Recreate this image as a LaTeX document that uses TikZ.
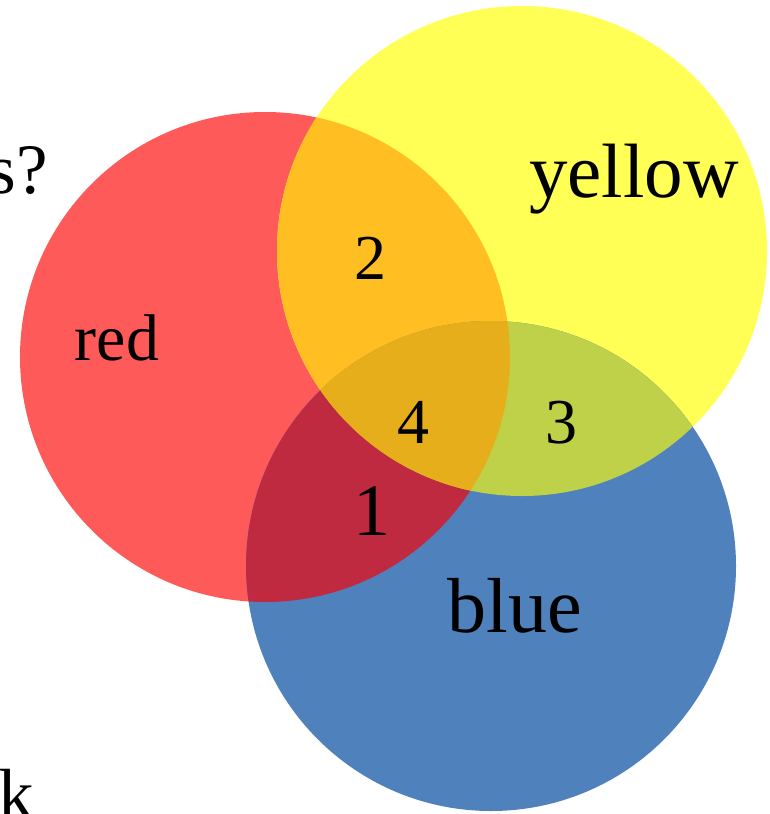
\documentclass[tikz,border=0pt]{standalone}
\usepackage{fontspec}
\setmainfont{Liberation Serif}
\definecolor{cred}{RGB}{255,90,90}
\definecolor{cyellow}{RGB}{255,255,85}
\definecolor{cblue}{RGB}{79,129,189}
\definecolor{cry}{RGB}{255,190,34}
\definecolor{crb}{RGB}{192,42,64}
\definecolor{cyb}{RGB}{191,209,73}
\definecolor{call}{RGB}{230,174,26}
\begin{document}
\begin{tikzpicture}[x=1pt,y=-1pt,
  lbl/.style={anchor=base,inner sep=0pt,text=black}]
\useasboundingbox (0,0) rectangle (769,814);
\clip (0,0) rectangle (769,814);
\def\redc{(265,357) circle[radius=245pt]}
\def\yelc{(522,251) circle[radius=245pt]}
\def\bluc{(491,566) circle[radius=245pt]}
\fill[cred] \redc;
\fill[cyellow] \yelc;
\fill[cblue] \bluc;
\begin{scope}\clip \redc; \fill[cry] \yelc; \end{scope}
\begin{scope}\clip \redc; \fill[crb] \bluc; \end{scope}
\begin{scope}\clip \yelc; \fill[cyb] \bluc; \end{scope}
\begin{scope}\clip \redc; \clip \yelc; \fill[call] \bluc; \end{scope}
\node[lbl,font=\fontsize{77}{80}\selectfont] (ty) at (634,197) {yellow};
\node[lbl,font=\fontsize{66}{70}\selectfont] (tr) at (117,360) {red};
\node[lbl,font=\fontsize{78}{80}\selectfont] (tb) at (515,632) {blue};
\node[lbl,font=\fontsize{64}{70}\selectfont] (t2) at (370,279) {2};
\node[lbl,font=\fontsize{64}{70}\selectfont] (t4) at (413,443) {4};
\node[lbl,font=\fontsize{64}{70}\selectfont] (t3) at (561,443) {3};
\node[lbl,font=\fontsize{74}{80}\selectfont] (t1) at (372,535) {1};
\node[anchor=base east,inner sep=0pt,font=\fontsize{71}{80}\selectfont] (tq) at (48,193) {s?};
\node[anchor=base west,inner sep=0pt,font=\fontsize{71}{80}\selectfont] (tk) at (-2,818) {k};
\end{tikzpicture}
\end{document}
